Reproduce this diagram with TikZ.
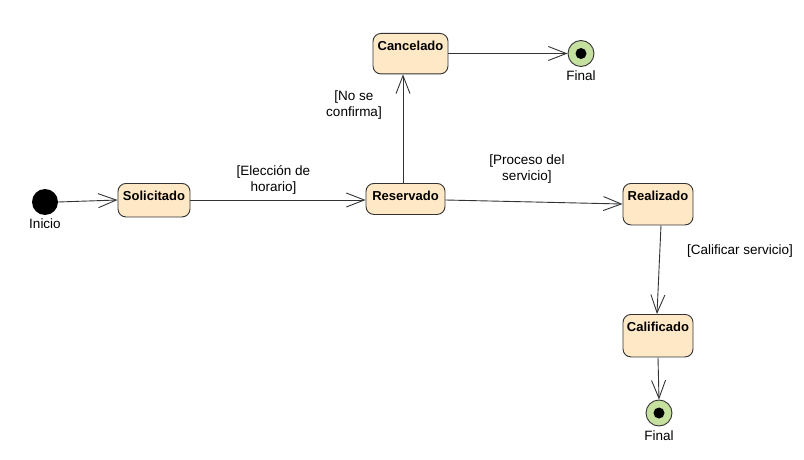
\documentclass[tikz,border=0pt]{standalone}
\usepackage{fontspec}
\setmainfont{Liberation Sans}
\usetikzlibrary{arrows.meta}
\definecolor{statefill}{HTML}{FEE8C6}
\definecolor{finalfill}{HTML}{C6E0A0}
\definecolor{lineclr}{HTML}{333333}
\begin{document}
\begin{tikzpicture}[x=1pt,y=-1pt,
  stbox/.style={draw=lineclr, line width=0.9pt, fill=statefill, rounded corners=8pt,
    font=\fontsize{13}{15}\selectfont\bfseries, anchor=north, inner xsep=0pt, inner ysep=0pt,
    text height=17pt},
  lbl/.style={font=\fontsize{13.5}{16.5}\selectfont, align=center, inner sep=0pt},
  trans/.style={draw=lineclr, line width=0.9pt, -{Straight Barb[length=18pt,width=14pt,line width=0.9pt]}},
  startnode/.style={circle, fill=black, minimum size=26pt, inner sep=0pt},
  finalnode/.style={circle, draw=lineclr, line width=0.9pt, fill=finalfill, minimum size=26pt, inner sep=0pt},
  dot/.style={circle, fill=black, minimum size=11pt, inner sep=0pt}
]
\useasboundingbox (0,0) rectangle (804,460);

% states
\node[startnode] (ini) at (45,202) {};
\node[lbl] (iniL) at (45,224) {Inicio};

\node[stbox, minimum width=72pt, text depth=16.5pt] (sol) at (154,183) {Solicitado};
\node[stbox, minimum width=79pt, text depth=14pt] (res) at (405.5,183) {Reservado};
\node[stbox, minimum width=75pt, text depth=23.5pt] (can) at (410.5,33) {Cancelado};
\node[stbox, minimum width=70pt, text depth=24.5pt] (rea) at (658,183) {Realizado};
\node[stbox, minimum width=70pt, text depth=25.5pt] (cal) at (658,314) {Calificado};

\node[finalnode] (fin1) at (581,53.5) {};
\node[dot] (fin1d) at (fin1) {};
\node[lbl] (fin1L) at (581,76) {Final};

\node[finalnode] (fin2) at (659,413) {};
\node[dot] (fin2d) at (fin2) {};
\node[lbl] (fin2L) at (659,436) {Final};

% transitions
\draw[trans] (ini.east) -- (sol.west |- 0,200);
\draw[trans] (sol.east |- 0,200) -- (res.west |- 0,200);
\draw[trans] (res.north -| 403,0) -- (can.south -| 403,0);
\draw[trans] (can.east |- 0,53.5) -- (fin1.west);
\draw[trans] (res.east |- 0,200) -- (rea.west |- 0,204);
\draw[trans] (rea.south -| 661,0) -- (cal.north -| 657,0);
\draw[trans] (cal.south) -- (fin2.north);

% guards
\node[lbl] (g1) at (273.5,180) {[Elección de\\horario]};
\node[lbl] (g2) at (354,105) {[No se\\confirma]};
\node[lbl] (g3) at (527,169) {[Proceso del\\servicio]};
\node[lbl] (g4) at (740,251) {[Calificar servicio]};
\end{tikzpicture}
\end{document}
